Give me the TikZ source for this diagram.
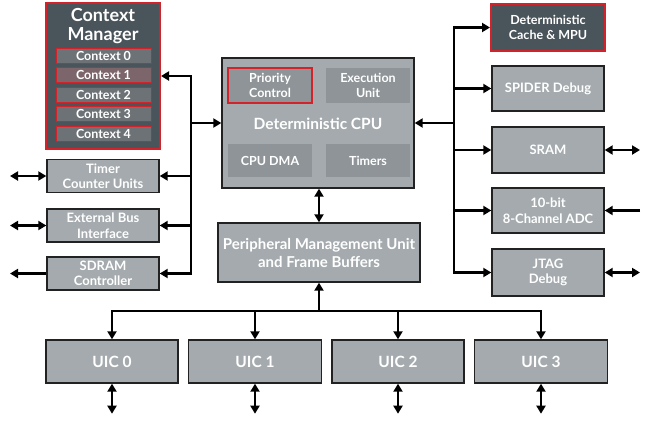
\documentclass[tikz,border=0pt]{standalone}
\usepackage{fontspec}
\setmainfont{Lato}
\usetikzlibrary{arrows.meta,calc}
\definecolor{lgray}{HTML}{A4AAAD}
\definecolor{igray}{HTML}{8E9497}
\definecolor{dgray}{HTML}{4A545B}
\definecolor{cgray}{HTML}{6D7277}
\definecolor{rred}{HTML}{D2232A}
\definecolor{bdr}{HTML}{222222}
\tikzset{
  box/.style={draw=bdr, line width=1.4pt, fill=lgray, text=white, font=\bfseries\fontsize{13}{15.5}\selectfont, align=center, inner sep=0pt},
  sub/.style={fill=igray, text=white, font=\bfseries\fontsize{12.5}{14.5}\selectfont, align=center, inner sep=0pt, minimum width=84pt},
  ctx/.style={draw=rred, line width=1pt, fill=cgray, text=white, font=\bfseries\fontsize{12.5}{12}\selectfont, inner sep=0pt, minimum width=95pt, minimum height=15pt},
  dark/.style={draw=rred, line width=2pt, fill=dgray, text=white, align=center, inner sep=0pt},
  bus/.style={line width=2.6pt, line cap=rect},
  arr/.style={line width=2.4pt, -{Triangle[length=8pt,width=9pt]}},
  darr/.style={line width=2.4pt, {Triangle[length=8pt,width=9pt]}-{Triangle[length=8pt,width=9pt]}},
  uic/.style={box, minimum height=43pt, font=\bfseries\fontsize{15.5}{16}\selectfont},
}
\begin{document}
\begin{tikzpicture}[x=1pt,y=-1pt]
\useasboundingbox[fill=white] (0,0) rectangle (650,424);

% Context manager
\node[dark, minimum width=114pt, minimum height=146pt] (cm) at (103,76) {};
\node[text=white, font=\bfseries\fontsize{18}{18.5}\selectfont, align=center] (cmt) at (103,26) {Context\\Manager};
\node[ctx] (c0) at (103.5,55.5) {Context 0};
\node[ctx, fill=cgray!85!rred] (c1) at (103.5,75) {Context 1};
\node[ctx] (c2) at (103.5,94.5) {Context 2};
\node[ctx] (c3) at (103.5,114) {Context 3};
\node[ctx] (c4) at (103.5,133.5) {Context 4};

% left boxes
\node[box, minimum width=112pt, minimum height=33pt] (tim) at (103,176) {Timer\\Counter Units};
\node[box, minimum width=112pt, minimum height=33pt] (ebi) at (103,225.5) {External Bus\\Interface};
\node[box, minimum width=112pt, minimum height=33pt] (sdr) at (103,273.5) {SDRAM\\Controller};

% CPU
\node[box, minimum width=192pt, minimum height=130pt] (cpu) at (318,123) {};
\node[sub, draw=rred, line width=2pt, minimum height=35pt] (pri) at (270,85.5) {Priority\\Control};
\node[sub, minimum height=35pt] (exe) at (368,85.5) {Execution\\Unit};
\node[text=white, font=\bfseries\fontsize{15.5}{16}\selectfont] (cput) at (318,124) {Deterministic CPU};
\node[sub, minimum height=33pt] (dma) at (270,160.5) {CPU DMA};
\node[sub, minimum height=33pt] (tmr) at (368,160.5) {Timers};

% PMU
\node[box, minimum width=202pt, minimum height=59pt, font=\bfseries\fontsize{15}{18}\selectfont] (pmu) at (319,252.5) {Peripheral Management Unit\\and Frame Buffers};

% right boxes
\node[dark, minimum width=114pt, minimum height=47pt, font=\bfseries\fontsize{12.5}{15}\selectfont] (cache) at (548,27.5) {Deterministic\\Cache \& MPU};
\node[box, minimum width=112pt, minimum height=45pt] (spi) at (548,88.5) {SPIDER Debug};
\node[box, minimum width=112pt, minimum height=46pt] (sram) at (548,150) {SRAM};
\node[box, minimum width=112pt, minimum height=45pt] (adc) at (548,210.5) {10-bit\\8-Channel ADC};
\node[box, minimum width=112pt, minimum height=47pt] (jtag) at (548,272.5) {JTAG\\Debug};

% UIC
\node[uic, minimum width=132pt] (u0) at (112,361.5) {UIC 0};
\node[uic, minimum width=133pt] (u1) at (255,361.5) {UIC 1};
\node[uic, minimum width=132pt] (u2) at (398,361.5) {UIC 2};
\node[uic, minimum width=133pt] (u3) at (541,361.5) {UIC 3};

% left bus
\coordinate (lbT) at (191,76);
\coordinate (lbB) at (191,273.5);
\draw[bus] (lbT) -- (lbB);
\draw[arr] (lbT) -- (cm.east);
\draw[arr] (cpu.west -| lbT) -- (cpu.west);
\draw[arr] (tim.east -| lbT) -- (tim.east);
\draw[arr] (ebi.east -| lbT) -- (ebi.east);
\draw[arr] (sdr.east -| lbT) -- (sdr.east);
\coordinate (lx) at (10,0);
\draw[darr] (tim.west) -- (tim.west -| lx);
\draw[darr] (ebi.west) -- (ebi.west -| lx);
\draw[arr] (sdr.west) -- (sdr.west -| lx);

% right bus
\coordinate (rbT) at (454,27.5);
\coordinate (rbB) at (454,272.5);
\draw[bus] (rbT) -- (rbB);
\draw[arr] (rbT) -- (cache.west);
\draw[arr] (cpu.east -| rbT) -- (cpu.east);
\draw[arr] (spi.west -| rbT) -- (spi.west);
\draw[arr] (sram.west -| rbT) -- (sram.west);
\draw[arr] (adc.west -| rbT) -- (adc.west);
\draw[arr] (jtag.west -| rbT) -- (jtag.west);
\coordinate (rx) at (640,0);
\draw[darr] (sram.east) -- (sram.east -| rx);
\draw[arr] (adc.east -| rx) -- (adc.east);
\draw[darr] (jtag.east) -- (jtag.east -| rx);

% CPU-PMU
\draw[darr] (cpu.south -| pmu.north) -- (pmu.north);

% bottom bus
\coordinate (bb) at (0,311);
\draw[bus] (u0.north |- bb) -- (u3.north |- bb);
\draw[arr] (pmu.south |- bb) -- (pmu.south);
\foreach \u in {u0,u1,u2,u3}{
  \draw[arr] (\u.north |- bb) -- (\u.north);
  \coordinate (\u e) at ($(\u.south)+(0,30)$);
  \draw[darr] (\u.south) -- (\u e);
}
\end{tikzpicture}
\end{document}
